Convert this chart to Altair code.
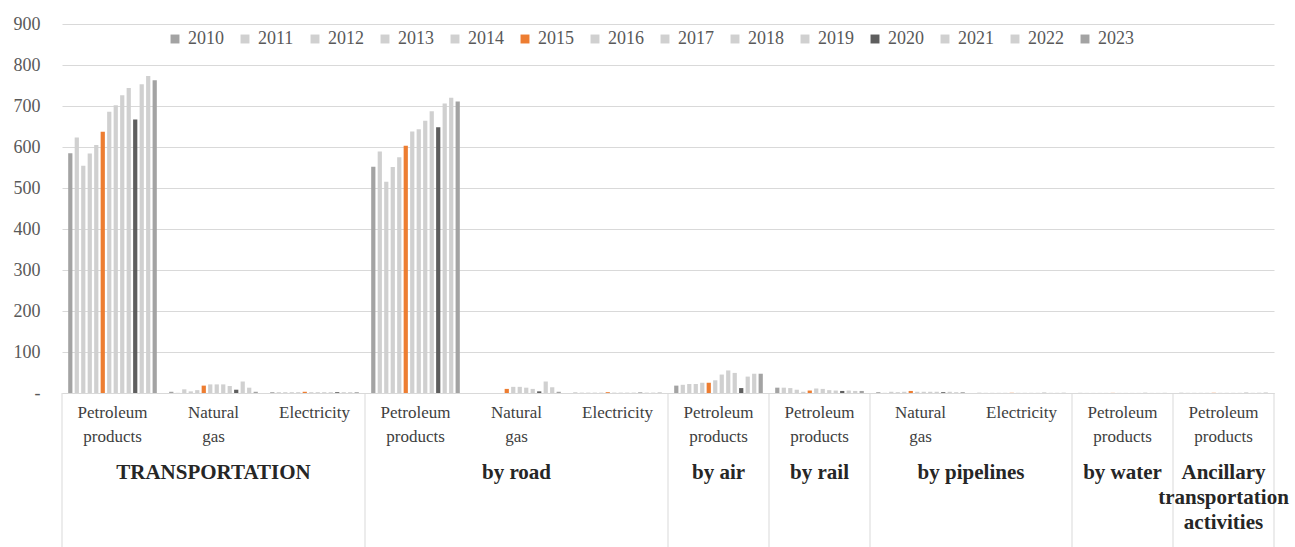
import altair as alt
import pandas as pd

years = [str(y) for y in range(2010, 2024)]
year_colors = ["#a3a3a3", "#d0d0d0", "#d0d0d0", "#d0d0d0", "#d0d0d0", "#ed7d31",
               "#d0d0d0", "#d0d0d0", "#d0d0d0", "#d0d0d0", "#5e5e5e", "#d0d0d0",
               "#d0d0d0", "#a3a3a3"]

groups = ["TRANSPORTATION", "by road", "by air", "by rail", "by pipelines",
          "by water", "Ancillary\ntransportation\nactivities"]
group_sizes = [3, 3, 1, 1, 2, 1, 1]

subcats = ["Petroleum\nproducts", "Natural\ngas", "Electricity",
           "Petroleum\nproducts", "Natural\ngas", "Electricity",
           "Petroleum\nproducts",
           "Petroleum\nproducts",
           "Natural\ngas", "Electricity",
           "Petroleum\nproducts",
           "Petroleum\nproducts"]

trans_pet = [585, 623, 554, 584, 605, 637, 686, 702, 726, 744, 667, 753, 773, 763]
trans_ng = [3, 0.5, 9, 4, 7, 18, 21, 21, 21, 17, 8, 28, 13, 3]
trans_el = [2, 2, 2, 2, 2, 3, 2, 2, 2, 2, 2, 2, 2, 2]
road_pet = [552, 589, 515, 551, 575, 603, 638, 643, 664, 687, 648, 706, 720, 711]
road_ng = [0, 0, 0, 0, 0, 10, 15, 15, 13, 10, 4, 28, 14, 3]
road_el = [1, 1, 1, 1, 1, 2, 1, 1, 1, 1, 1, 1, 1, 1]
air_pet = [18, 20, 22, 22, 25, 25, 31, 45, 55, 49, 12, 40, 47, 47]
rail_pet = [13, 13, 12, 8, 3, 6, 11, 10, 7, 6, 5, 6, 5, 5]
pipe_ng = [2, 0.5, 3, 2, 3, 5, 3, 3, 3, 3, 2, 3, 2, 2]
pipe_el = [0.5, 0.5, 0.5, 0.5, 0.5, 0.5, 0.5, 0.5, 0.5, 0.5, 0.5, 0.5, 0.5, 0.5]
water_pet = [0.3, 0.3, 0.3, 0.3, 0.3, 0.3, 0.3, 0.3, 0.3, 0.3, 0.3, 0.3, 0.3, 0.3]
anc_pet = [0.5, 0.5, 0.5, 0.5, 0.5, 0.5, 0.5, 0.5, 0.5, 0.5, 0.5, 0.5, 0.8, 0.8]

series = [trans_pet, trans_ng, trans_el, road_pet, road_ng, road_el,
          air_pet, rail_pet, pipe_ng, pipe_el, water_pet, anc_pet]

# ---- tables built from the arrays ----
cat_ids = [f"c{i:02d}" for i in range(len(subcats))]
rows = []
for cid, vals in zip(cat_ids, series):
    for yr, v in zip(years, vals):
        rows.append({"cat": cid, "year": yr, "value": v})
df = pd.DataFrame(rows)

n_cat = len(subcats)
cat_df = pd.DataFrame({"pos": [i + 0.5 for i in range(n_cat)], "label": subcats})

bounds = [0]
for s in group_sizes:
    bounds.append(bounds[-1] + s)
grp_df = pd.DataFrame({"pos": [(bounds[i] + bounds[i + 1]) / 2 for i in range(len(groups))],
                       "label": groups})
bnd_df = pd.DataFrame({"b": bounds})

FONT = "'Liberation Serif', 'Times New Roman', 'DejaVu Serif', serif"
qscale = alt.Scale(domain=[0, n_cat], nice=False, zero=False)

bars = alt.Chart(df).mark_bar().encode(
    x=alt.X("cat:N", sort=cat_ids,
            scale=alt.Scale(paddingInner=0.1, paddingOuter=0.05),
            axis=alt.Axis(labels=False, ticks=False, title=None, grid=False,
                          domainColor="#d9d9d9", domainWidth=1)),
    xOffset=alt.XOffset("year:N", sort=years,
                        scale=alt.Scale(paddingInner=0.35, paddingOuter=0.175)),
    y=alt.Y("value:Q", scale=alt.Scale(domain=[0, 900], nice=False),
            axis=alt.Axis(values=list(range(0, 1000, 100)), title=None,
                          labelExpr="datum.value == 0 ? '-' : datum.label",
                          ticks=False, domain=False, grid=True,
                          gridColor="#d9d9d9", gridWidth=1,
                          labelFont=FONT, labelFontSize=18, labelColor="#595959",
                          labelPadding=22)),
    color=alt.Color("year:N", sort=years,
                    scale=alt.Scale(domain=years, range=year_colors),
                    legend=alt.Legend(title=None, orient="none", direction="horizontal",
                                      columns=14, legendX=104, legendY=6,
                                      symbolType="square", symbolSize=80,
                                      symbolStrokeWidth=0, labelFont=FONT,
                                      labelFontSize=18, labelColor="#595959",
                                      labelOffset=4, columnPadding=12)),
)

rules = alt.Chart(bnd_df).mark_rule(color="#d9d9d9", strokeWidth=1).encode(
    x=alt.X("b:Q", scale=qscale, axis=None),
    y=alt.value(369),
    y2=alt.value(523),
)

cat_labels = alt.Chart(cat_df).mark_text(
    lineBreak="\n", baseline="top", align="center", font=FONT, fontSize=17,
    color="#404040", lineHeight=24).encode(
    x=alt.X("pos:Q", scale=qscale, axis=None),
    y=alt.value(381),
    text="label:N",
)

grp_labels = alt.Chart(grp_df).mark_text(
    lineBreak="\n", baseline="top", align="center", font=FONT, fontSize=21,
    fontWeight="bold", color="#262626", lineHeight=25).encode(
    x=alt.X("pos:Q", scale=qscale, axis=None),
    y=alt.value(438),
    text="label:N",
)

chart = alt.layer(bars, rules, cat_labels, grp_labels).resolve_scale(
    x="independent"
).properties(
    width=1212, height=369,
    autosize=alt.AutoSizeParams(type="none"),
    padding={"left": 62, "top": 24, "right": 21, "bottom": 154},
    background="white",
).configure_view(stroke=None)

chart.save("out.html", embed_options={"renderer": "svg", "actions": False})
